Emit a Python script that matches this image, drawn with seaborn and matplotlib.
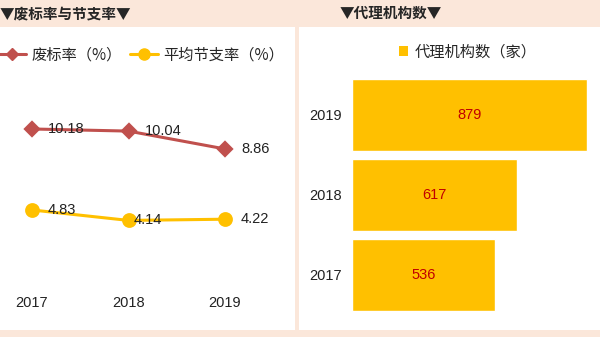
import matplotlib
matplotlib.use("Agg")
import matplotlib.pyplot as plt
import seaborn as sns
import pandas as pd
from matplotlib.patches import Rectangle, Patch
from matplotlib.lines import Line2D

# ---- data ----
years = ["2017", "2018", "2019"]
bid_fail_rate = [10.18, 10.04, 8.86]
saving_rate = [4.83, 4.14, 4.22]
agency_years = ["2019", "2018", "2017"]
agency_counts = [879, 617, 536]

title_left = "▼废标率与节支率▼"
title_right = "▼代理机构数▼"
legend_fail = "废标率（%）"
legend_save = "平均节支率（%）"
legend_agency = "代理机构数（家）"

RED = "#C0504D"
YEL = "#FFC000"
PEACH = "#FBE7DA"
FONTS = ["Noto Sans CJK SC", "DejaVu Sans"]
NUMF = ["Liberation Sans", "Noto Sans CJK SC"]

sns.set_theme(style="white")
plt.rcParams["font.family"] = FONTS

W, H = 600, 337
fig = plt.figure(figsize=(W / 100, H / 100), dpi=100, facecolor=PEACH)


def fx(px):
    return px / W


def fy(py):
    return 1 - py / H


# white panels
fig.patches.append(Rectangle((fx(0), fy(330)), fx(295), (330 - 27) / H,
                             transform=fig.transFigure, facecolor="white", edgecolor="none", zorder=-5))
fig.patches.append(Rectangle((fx(299), fy(330)), fx(301), (330 - 27) / H,
                             transform=fig.transFigure, facecolor="white", edgecolor="none", zorder=-5))

# titles
fig.text(fx(0), fy(13), title_left, ha="left", va="center", fontsize=10.5, fontweight="bold", family=FONTS)
fig.text(fx(340), fy(13), title_right, ha="left", va="center", fontsize=10.5, fontweight="bold", family=FONTS)

# ---- line chart ----
ax1 = fig.add_axes([fx(0), fy(290), fx(295), (290 - 70) / H])
ax1.set_facecolor("none")
df1 = pd.DataFrame({"year": years, "fail": bid_fail_rate, "save": saving_rate})
sns.pointplot(data=df1, x="year", y="fail", ax=ax1, color=RED, markers="D",
              markersize=7, linewidth=2.2)
sns.pointplot(data=df1, x="year", y="save", ax=ax1, color=YEL, markers="o",
              markersize=9, linewidth=2.2)
scale = 96.5
xa = -32 / scale
ax1.set_xlim(xa, xa + 295 / scale)
ax1.set_ylim((283.1 - 290) / 15.14, (283.1 - 70) / 15.14)
for s in ax1.spines.values():
    s.set_visible(False)
ax1.set_yticks([])
ax1.set_xlabel("")
ax1.set_ylabel("")
ax1.tick_params(axis="x", length=0, pad=4, labelsize=10.5)
for lab in ax1.get_xticklabels():
    lab.set_family(NUMF)
    lab.set_color("#222222")

fail_off = [16, 16, 16]
save_off = [16, 5, 16]
for i, v in enumerate(bid_fail_rate):
    ax1.annotate(f"{v:.2f}", (i, v), xytext=(fail_off[i] * 0.72, 0), textcoords="offset points",
                 ha="left", va="center", fontsize=10.5, family=NUMF, color="#222222")
for i, v in enumerate(saving_rate):
    ax1.annotate(f"{v:.2f}", (i, v), xytext=(save_off[i] * 0.72, 0), textcoords="offset points",
                 ha="left", va="center", fontsize=10.5, family=NUMF, color="#222222")

h1 = Line2D([], [], color=RED, marker="D", markersize=6, linewidth=2.2)
h2 = Line2D([], [], color=YEL, marker="o", markersize=8, linewidth=2.2)
fig.legend([h1, h2], [legend_fail, legend_save], loc="center left",
           bbox_to_anchor=(fx(-2), fy(55)), ncol=2, frameon=False,
           handlelength=1.85, handletextpad=0.35, columnspacing=0.5,
           borderaxespad=0, borderpad=0, prop={"family": FONTS, "size": 11})

# ---- bar chart ----
ax2 = fig.add_axes([fx(352), fy(320), fx(243), (320 - 70) / H])
ax2.set_facecolor("none")
df2 = pd.DataFrame({"year": agency_years, "count": agency_counts})
sns.barplot(data=df2, y="year", x="count", ax=ax2, color=YEL, saturation=1,
            width=0.9, order=agency_years, orient="h")
ax2.set_xlim(0, 243 / (235 / 879))
ax2.set_ylim(2 + (320 - 275) / 80, -(115 - 70) / 80)
for s in ax2.spines.values():
    s.set_visible(False)
ax2.set_xticks([])
ax2.set_xlabel("")
ax2.set_ylabel("")
ax2.tick_params(axis="y", length=0, pad=7, labelsize=10.5)
for lab in ax2.get_yticklabels():
    lab.set_family(NUMF)
    lab.set_color("#222222")
for c in ax2.containers:
    ax2.bar_label(c, labels=[str(v) for v in agency_counts], label_type="center",
                  color="#C00000", fontsize=10.5, family=NUMF)

fig.legend([Patch(facecolor=YEL, edgecolor="none")], [legend_agency], loc="center left",
           bbox_to_anchor=(fx(399), fy(52)), frameon=False,
           handlelength=0.6, handleheight=0.6, handletextpad=0.4,
           borderaxespad=0, borderpad=0, prop={"family": FONTS, "size": 11})

fig.savefig("out.png", dpi=100, facecolor=PEACH)
